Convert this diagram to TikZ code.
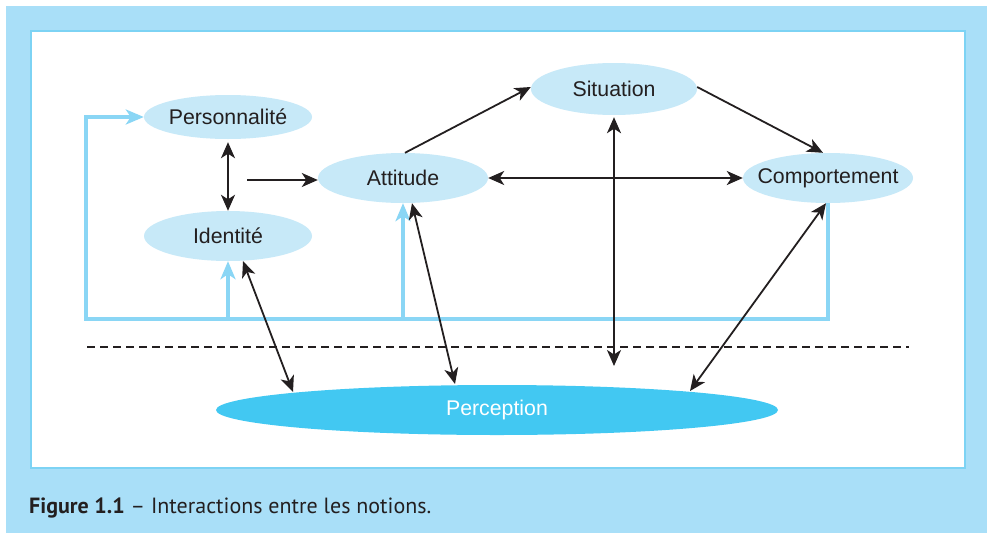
\documentclass[tikz,border=0pt]{standalone}
\usepackage{fontspec}
\setmainfont{Liberation Sans}
\newfontfamily\capfont{PT Sans}
\usetikzlibrary{shapes.geometric,arrows.meta,calc}
\definecolor{outerblue}{HTML}{A9DFF8}
\definecolor{framebl}{HTML}{7DD3F4}
\definecolor{nodebl}{HTML}{C7E9F8}
\definecolor{percbl}{HTML}{42C8F2}
\definecolor{fbblue}{HTML}{8AD6F5}
\definecolor{ink}{HTML}{231F20}
\newcommand{\zw}[1]{\makebox[0pt]{#1}}
\tikzset{
  notion/.style={ellipse, fill=nodebl, draw=none, inner sep=0pt, text=ink, font=\fontsize{21.3}{23}\selectfont},
  tipk/.tip={Stealth[length=16pt,width=14pt,inset=4.5pt]},
  blk/.style={draw=ink, line width=1.8pt, -tipk},
  dbl/.style={draw=ink, line width=1.8pt, tipk-tipk},
  fb/.style={draw=fbblue, line width=3.2pt, -{Stealth[length=18pt,width=15pt,inset=5pt]}},
}
\begin{document}
\begin{tikzpicture}[x=1pt,y=-1pt]
\useasboundingbox (0,0) rectangle (987,533);
\fill[outerblue] (6,6) rectangle (987,533);
\draw[framebl, fill=white, line width=2pt] (31,31) rectangle (965,468);

\node[notion, minimum width=168pt, minimum height=44pt] (per) at (228,117) {\zw{Personnalité}};
\node[notion, minimum width=168pt, minimum height=50pt] (ide) at (228,236) {\zw{Identité}};
\node[notion, minimum width=170pt, minimum height=50pt] (att) at (403,178) {\zw{Attitude}};
\node[notion, minimum width=166pt, minimum height=52pt] (sit) at (614,89) {\zw{Situation}};
\node[notion, minimum width=170pt, minimum height=50pt] (com) at (828,178) {\zw{Comportement}};
\node[ellipse, fill=percbl, inner sep=0pt, minimum width=562pt, minimum height=50pt, text=white, font=\fontsize{21.3}{23}\selectfont] (perc) at (497,410) {\zw{Perception}};

\coordinate (src) at (247,180);
\coordinate (sb) at (614,366);
\coordinate (fbl) at (86,319);

% dashed separator
\coordinate (dl) at (87,347);
\coordinate (dr) at (909,347);
\draw[ink, line width=1.4pt, dash pattern=on 8pt off 5pt] (dl) -- (dr);

% feedback lines
\draw[fb] (com.south) |- (fbl) |- (per.west);
\draw[fb] (ide.south |- fbl) -- (ide.south);
\draw[fb] (att.south |- fbl) -- (att.south);

% black connectors
\draw[dbl, shorten <=3pt] (per.south) -- (ide.north);
\draw[blk] (src) -- (src -| att.west);
\draw[blk] ([xshift=2pt]att.north) -- ([yshift=2pt]sit.west);
\draw[blk] ([yshift=2pt]sit.east) -- ([xshift=-5pt]com.north);
\draw[dbl] (att.east) -- (com.west);
\draw[dbl, shorten <=2pt] (sit.south) -- (sb);
\draw[dbl] ([xshift=15pt]ide.south) -- ([xshift=-204pt,yshift=18pt]perc.center);
\draw[dbl] ([xshift=9pt]att.south) -- ([xshift=-42pt,yshift=26pt]perc.center);
\draw[dbl] ([xshift=-2pt]com.south) -- ([xshift=193pt,yshift=19pt]perc.center);

% caption
\node[anchor=base west, inner sep=0pt, text=ink, font=\capfont\fontsize{22}{24}\selectfont] (cap) at (29,513) {\textbf{Figure 1.1} – Interactions entre les notions.};
\end{tikzpicture}
\end{document}
